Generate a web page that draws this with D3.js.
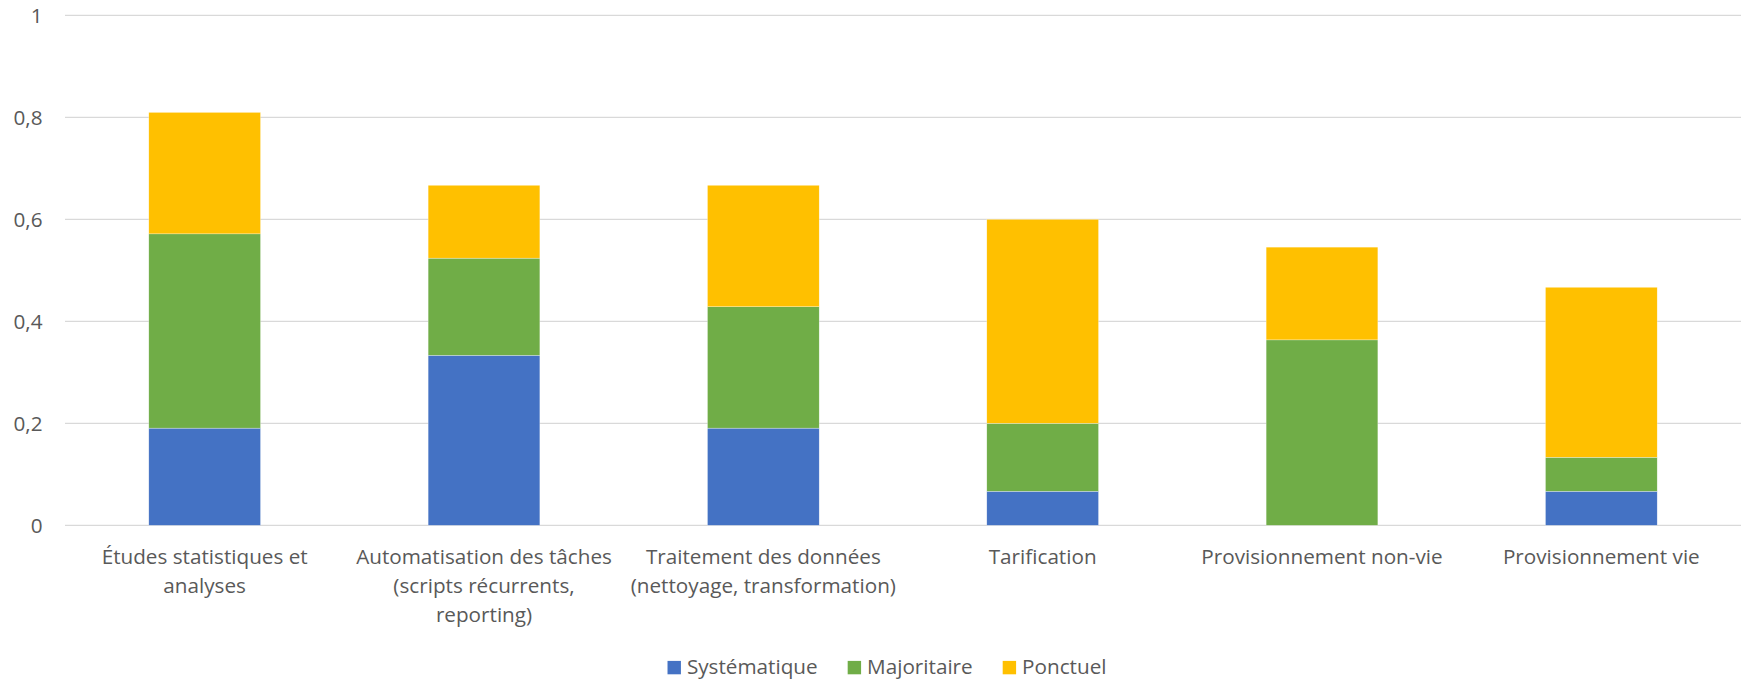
<!DOCTYPE html>
<html lang="fr">
<head>
<meta charset="utf-8">
<script src="https://cdn.jsdelivr.net/npm/d3@7"></script>
<style>
  html, body { margin: 0; padding: 0; background: #ffffff; }
  svg { display: block; }
  text { font-family: "Open Sans", "Noto Sans", sans-serif; fill: #595959; }
</style>
</head>
<body>
<svg id="chart" width="1744" height="680"></svg>
<script>
// Catégories (une entrée par ligne de libellé)
const categories = [
  "Études statistiques et analyses",
  "Automatisation des tâches (scripts récurrents, reporting)",
  "Traitement des données (nettoyage, transformation)",
  "Tarification",
  "Provisionnement non-vie",
  "Provisionnement vie"
];
const categoryLines = [
  ["Études statistiques et", "analyses"],
  ["Automatisation des tâches", "(scripts récurrents,", "reporting)"],
  ["Traitement des données", "(nettoyage, transformation)"],
  ["Tarification"],
  ["Provisionnement non-vie"],
  ["Provisionnement vie"]
];

// Séries empilées
const seriesNames = ["Systématique", "Majoritaire", "Ponctuel"];
const systematique = [0.1905, 0.3333, 0.1905, 0.0667, 0.0000, 0.0667];
const majoritaire  = [0.3810, 0.1905, 0.2381, 0.1333, 0.3636, 0.0667];
const ponctuel     = [0.2381, 0.1429, 0.2381, 0.4000, 0.1818, 0.3333];
const seriesColors = ["#4472C4", "#70AD47", "#FFC000"];

// Graduations de l'axe vertical
const yTicks = [0, 0.2, 0.4, 0.6, 0.8, 1];
const yTickLabels = ["0", "0,2", "0,4", "0,6", "0,8", "1"];

const rows = categories.map((c, i) => ({
  category: c,
  "Systématique": systematique[i],
  "Majoritaire": majoritaire[i],
  "Ponctuel": ponctuel[i]
}));

const svg = d3.select("#chart");
const FONT = 20.7;

const plot = { left: 65, right: 1741, top: 15.3, bottom: 525.3 };

const x = d3.scaleBand()
  .domain(categories)
  .range([plot.left, plot.right])
  .paddingInner(0.6)
  .paddingOuter(0.3);

const y = d3.scaleLinear()
  .domain([0, 1])
  .range([plot.bottom, plot.top]);

// Quadrillage horizontal
svg.append("g")
  .selectAll("line")
  .data(yTicks)
  .join("line")
  .attr("x1", plot.left)
  .attr("x2", plot.right)
  .attr("y1", d => y(d))
  .attr("y2", d => y(d))
  .attr("stroke", "#d9d9d9")
  .attr("stroke-width", 1.3);

// Libellés de l'axe vertical
svg.append("g")
  .selectAll("text")
  .data(yTicks)
  .join("text")
  .attr("x", 42.5)
  .attr("y", d => y(d) + 7.4)
  .attr("text-anchor", "end")
  .style("font-size", FONT + "px")
  .text((d, i) => yTickLabels[i]);

// Barres empilées
const stacked = d3.stack().keys(seriesNames)(rows);

svg.append("g")
  .selectAll("g")
  .data(stacked)
  .join("g")
  .attr("fill", (d, i) => seriesColors[i])
  .selectAll("rect")
  .data(d => d)
  .join("rect")
  .attr("x", d => x(d.data.category))
  .attr("width", x.bandwidth())
  .attr("y", d => y(d[1]))
  .attr("height", d => Math.max(0, y(d[0]) - y(d[1])))
  .attr("stroke", "#ffffff")
  .attr("stroke-width", 0.5)
  .attr("stroke-opacity", d => (d[1] - d[0]) > 0 ? 0.6 : 0);

// Libellés des catégories
const catG = svg.append("g")
  .selectAll("text")
  .data(categories)
  .join("text")
  .attr("text-anchor", "middle")
  .style("font-size", FONT + "px");

catG.each(function (c, i) {
  const cx = x(c) + x.bandwidth() / 2;
  d3.select(this)
    .selectAll("tspan")
    .data(categoryLines[i])
    .join("tspan")
    .attr("x", cx)
    .attr("y", (d, j) => 564 + j * 29)
    .text(d => d);
});

// Légende
const legend = svg.append("g");
const sq = 13.4, gapText = 6, gapItem = 30;
const legendBaseline = 674.3;
const items = legend.selectAll("g")
  .data(seriesNames)
  .join("g");

items.append("rect")
  .attr("width", sq)
  .attr("height", sq)
  .attr("y", legendBaseline - sq)
  .attr("fill", (d, i) => seriesColors[i]);

items.append("text")
  .attr("y", legendBaseline)
  .style("font-size", FONT + "px")
  .text(d => d);

let widths = [];
items.selectAll("text").each(function () { widths.push(this.getComputedTextLength()); });
const total = d3.sum(widths) + seriesNames.length * (sq + gapText) + (seriesNames.length - 1) * gapItem;
let cursor = 887 - total / 2;
items.each(function (d, i) {
  const g = d3.select(this);
  g.select("rect").attr("x", cursor);
  g.select("text").attr("x", cursor + sq + gapText);
  cursor += sq + gapText + widths[i] + gapItem;
});
</script>
</body>
</html>
